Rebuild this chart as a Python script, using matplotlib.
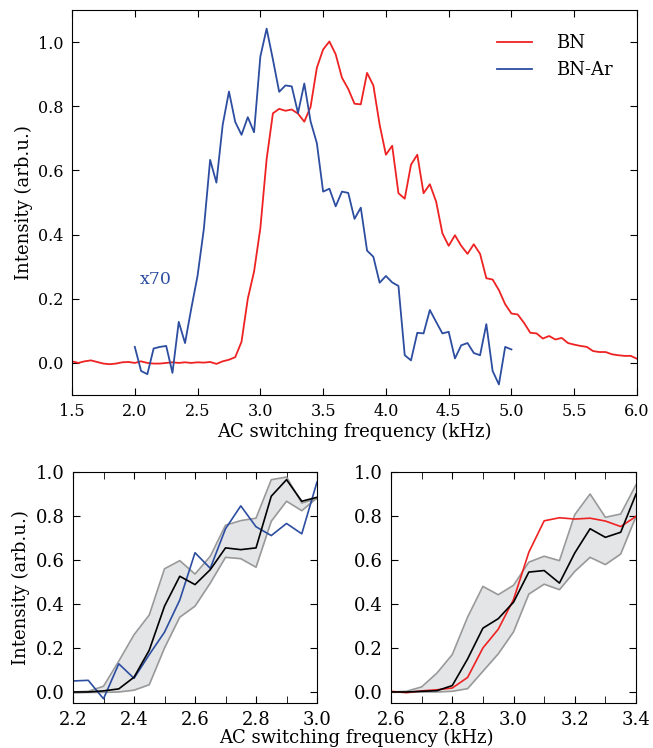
import numpy as np
import matplotlib
matplotlib.use("Agg")
import matplotlib.pyplot as plt
from matplotlib.ticker import MultipleLocator

plt.rcParams["font.family"] = "serif"
plt.rcParams["font.serif"] = ["DejaVu Serif"]
plt.rcParams["xtick.direction"] = "in"
plt.rcParams["ytick.direction"] = "in"
plt.rcParams["xtick.top"] = True
plt.rcParams["ytick.right"] = True

RED = "#ee2222"
BLUE = "#2c4da0"
GRAY = "#999999"
FILL = "#e4e5e7"

# BN spectrum, 1.5 .. 6.0 kHz in 0.05 steps
bn_freq = np.linspace(1.5, 6.0, 91)
bn = [0.005, 0.0, 0.005, 0.008, 0.003, -0.002, -0.004, -0.002, 0.002, 0.003,
      0.0, 0.005, 0.0, -0.002, -0.002, 0.0, 0.002, 0.0, 0.002, 0.0,
      0.002, 0.001, 0.003, -0.003, 0.005, 0.01, 0.018, 0.066, 0.2, 0.285,
      0.42, 0.635, 0.778, 0.792, 0.786, 0.79, 0.777, 0.752, 0.798, 0.92,
      0.977, 1.002, 0.962, 0.889, 0.854, 0.808, 0.806, 0.904, 0.865, 0.743,
      0.649, 0.677, 0.529, 0.512, 0.618, 0.649, 0.529, 0.557, 0.503, 0.404,
      0.365, 0.398, 0.365, 0.34, 0.37, 0.34, 0.264, 0.26, 0.227, 0.183,
      0.154, 0.151, 0.125, 0.094, 0.092, 0.076, 0.084, 0.073, 0.078, 0.062,
      0.057, 0.053, 0.05, 0.037, 0.034, 0.034, 0.027, 0.024, 0.022, 0.022,
      0.013]

# BN-Ar spectrum (x70), 2.0 .. 5.0 kHz
ar_freq = np.linspace(2.0, 5.0, 61)
bn_ar = [0.05, -0.025, -0.035, 0.045, 0.05, 0.053, -0.031, 0.128, 0.062, 0.17,
         0.272, 0.418, 0.633, 0.562, 0.742, 0.846, 0.751, 0.711, 0.766, 0.719,
         0.955, 1.042, 0.946, 0.845, 0.865, 0.862, 0.779, 0.871, 0.753, 0.685,
         0.534, 0.543, 0.488, 0.534, 0.53, 0.449, 0.484, 0.35, 0.331, 0.25,
         0.271, 0.251, 0.24, 0.024, 0.008, 0.094, 0.092, 0.165, 0.128, 0.092,
         0.097, 0.014, 0.055, 0.062, 0.031, 0.024, 0.121, -0.025, -0.067, 0.05,
         0.042]

# simulated edges with spread, left panel 2.2 .. 3.0 kHz
left_freq = np.linspace(2.2, 3.0, 17)
left_mean = [0.0, 0.0, 0.005, 0.014, 0.067, 0.19, 0.39, 0.526, 0.488, 0.556,
             0.655, 0.647, 0.655, 0.89, 0.965, 0.867, 0.885]
left_upper = [0.0, 0.003, 0.026, 0.14, 0.26, 0.35, 0.56, 0.597, 0.536, 0.617,
              0.758, 0.779, 0.79, 0.965, 0.977, 0.859, 0.879]
left_lower = [-0.004, -0.002, -0.002, 0.0, 0.008, 0.033, 0.2, 0.34, 0.39, 0.495,
              0.612, 0.606, 0.567, 0.776, 0.867, 0.824, 0.882]

# right panel 2.6 .. 3.4 kHz
right_freq = np.linspace(2.6, 3.4, 17)
right_mean = [0.0, 0.0, 0.003, 0.006, 0.029, 0.15, 0.29, 0.333, 0.408, 0.545,
              0.552, 0.495, 0.632, 0.742, 0.703, 0.726, 0.9]
right_upper = [0.0, 0.003, 0.023, 0.086, 0.17, 0.34, 0.48, 0.442, 0.485, 0.59,
               0.617, 0.597, 0.806, 0.9, 0.794, 0.809, 0.942]
right_lower = [0.0, -0.002, 0.0, 0.0, 0.003, 0.015, 0.094, 0.173, 0.273, 0.445,
               0.49, 0.465, 0.548, 0.612, 0.579, 0.627, 0.798]

bn = np.array(bn)
bn_ar = np.array(bn_ar)

fig = plt.figure(figsize=(6.53, 7.48), dpi=100)
ax = fig.add_axes([0.1103, 0.4719, 0.8652, 0.5147])
ax2 = fig.add_axes([0.1118, 0.0602, 0.3737, 0.3088])
ax3 = fig.add_axes([0.5988, 0.0602, 0.3752, 0.3088])

# top panel
ax.plot(bn_freq, bn, color=RED, lw=1.3, label="BN")
ax.plot(ar_freq, bn_ar, color=BLUE, lw=1.3, label="BN-Ar")
ax.text(2.04, 0.26, "x70", color=BLUE, fontsize=12.5, va="center")
ax.set_xlim(1.5, 6.0)
ax.set_ylim(-0.1, 1.1)
ax.xaxis.set_major_locator(MultipleLocator(0.5))
ax.yaxis.set_major_locator(MultipleLocator(0.2))
ax.tick_params(labelsize=11.5, length=5, pad=6)
ax.set_xlabel("AC switching frequency (kHz)", fontsize=13, labelpad=2)
ax.set_ylabel("Intensity (arb.u.)", fontsize=13)
ax.legend(loc="upper right", frameon=False, fontsize=13, handlelength=1.9,
          handletextpad=1.35, borderaxespad=0.95)

# bottom left
ax2.fill_between(left_freq, left_lower, left_upper, color=FILL, lw=0)
ax2.plot(left_freq, left_upper, color=GRAY, lw=1.2)
ax2.plot(left_freq, left_lower, color=GRAY, lw=1.2)
ax2.plot(ar_freq, bn_ar, color=BLUE, lw=1.2)
ax2.plot(left_freq, left_mean, color="black", lw=1.2)
ax2.set_xlim(2.2, 3.0)

# bottom right
ax3.fill_between(right_freq, right_lower, right_upper, color=FILL, lw=0)
ax3.plot(right_freq, right_upper, color=GRAY, lw=1.2)
ax3.plot(right_freq, right_lower, color=GRAY, lw=1.2)
ax3.plot(bn_freq, bn, color=RED, lw=1.2)
ax3.plot(right_freq, right_mean, color="black", lw=1.2)
ax3.set_xlim(2.6, 3.4)

for a in (ax2, ax3):
    a.set_ylim(-0.05, 1.0)
    a.xaxis.set_major_locator(MultipleLocator(0.2))
    a.xaxis.set_minor_locator(MultipleLocator(0.1))
    a.yaxis.set_major_locator(MultipleLocator(0.2))
    a.tick_params(which="both", labelsize=13, length=5, pad=6)
    a.tick_params(which="minor", top=True, direction="in")

ax2.set_ylabel("Intensity (arb.u.)", fontsize=13)
fig.text(0.545, 0.002, "AC switching frequency (kHz)", fontsize=13,
         ha="center", va="bottom")

fig.savefig("out.png", dpi=100)
